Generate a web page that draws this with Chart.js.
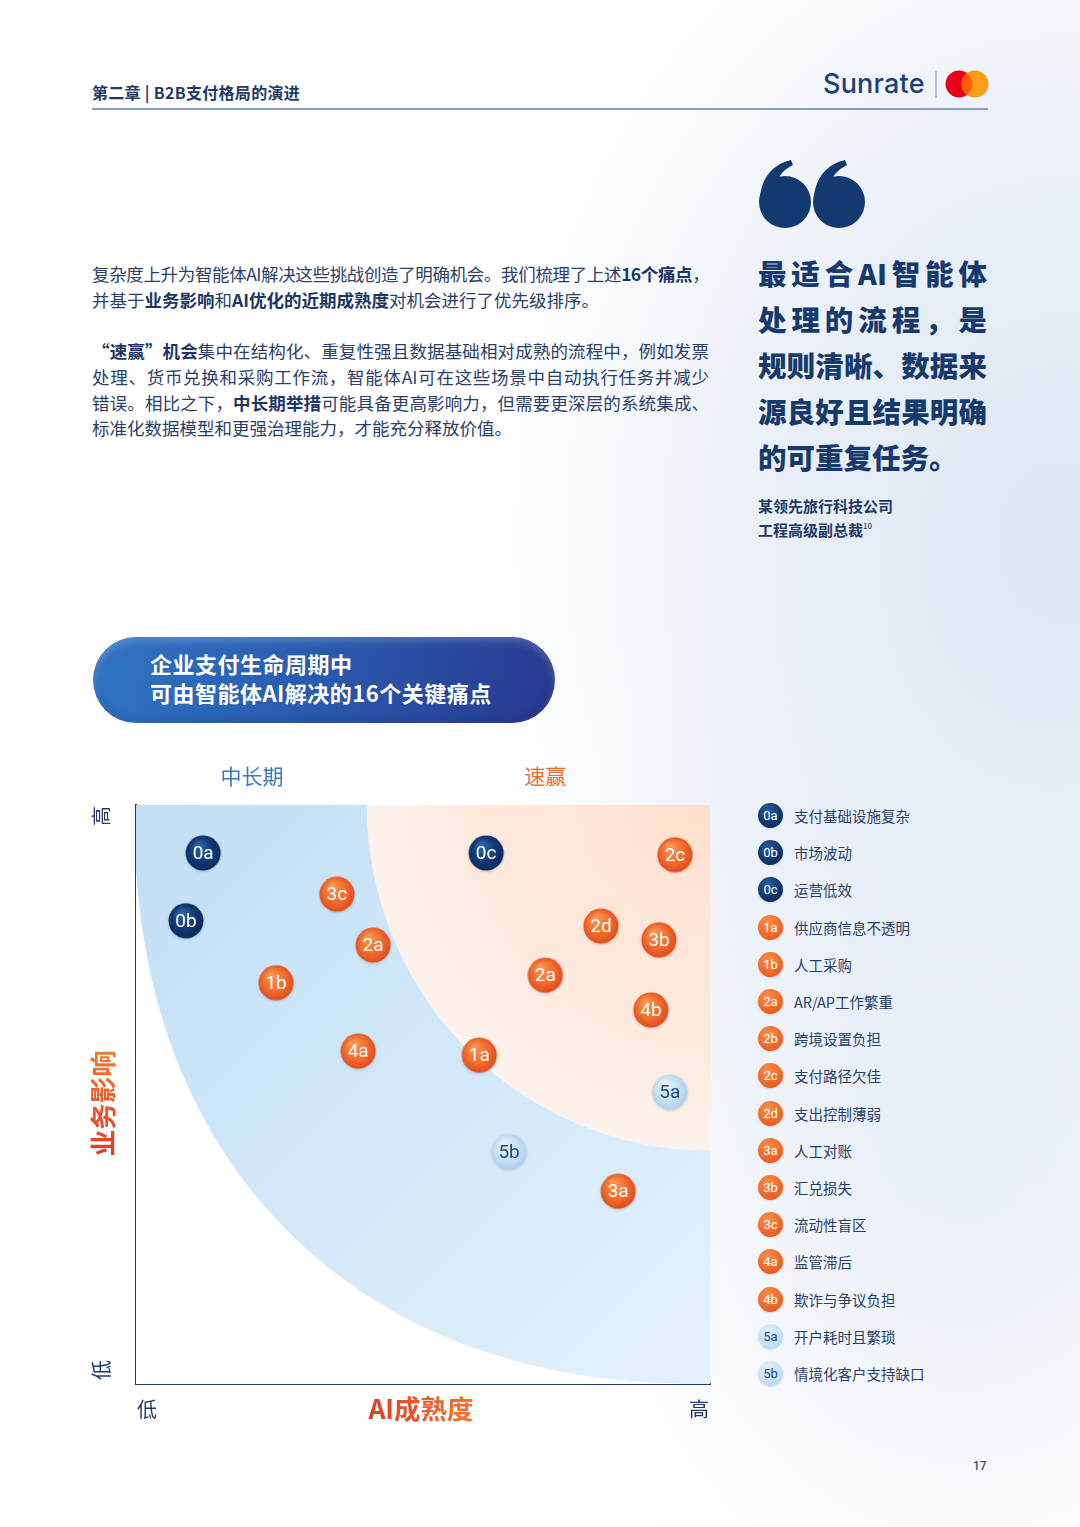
<!DOCTYPE html>
<html>
<head>
<meta charset="utf-8">
<script src="https://cdn.jsdelivr.net/npm/chart.js@4.4.1/dist/chart.umd.min.js"></script>
<style>
html, body { margin: 0; padding: 0; }
body {
  width: 1080px; height: 1527px; position: relative; overflow: hidden; background: #fff;
  font-family: "Noto Sans CJK SC", "Noto Sans", sans-serif; color: #1f3a68;
}
.wash {
  position: absolute; left: 0; top: 0; width: 1080px; height: 1527px;
  background:
    radial-gradient(ellipse 600px 760px at 1060px 540px, rgba(221,230,242,1) 0%, rgba(231,237,246,0.9) 45%, rgba(255,255,255,0) 100%),
    radial-gradient(ellipse 440px 600px at 960px 1100px, rgba(228,235,245,0.95) 0%, rgba(255,255,255,0) 100%);
}
.abs { position: absolute; }
.chapter { left: 92px; top: 80px; font-size: 16px; font-weight: 700; color: #1f3a68; white-space: nowrap; letter-spacing: 0.3px; }
.logo { left: 823px; top: 67px; font-family: "Inter", "Roboto", sans-serif; font-size: 27px; font-weight: 500; color: #1c3f7d; letter-spacing: 0.2px; }
.divider { left: 935px; top: 71px; width: 2px; height: 27px; background: #b8c2d2; }
.rule { left: 92px; top: 108px; width: 896px; height: 2px; background: #8d9db6; }
.body-text { left: 92px; top: 261px; width: 620px; font-size: 17.5px; line-height: 25.7px; color: #2b4068; }
.body-text .j { width: 617px; text-align: justify; text-align-last: justify; white-space: nowrap; }
.body-text .tight { letter-spacing: -0.7px; }
.body-text .n { white-space: nowrap; }
.body-text b { color: #1b3566; font-weight: 700; }
.quote { left: 758px; top: 250px; width: 229px; font-size: 28.5px; line-height: 46px; font-weight: 900; color: #163a6e; }
.quote .j { text-align: justify; text-align-last: justify; white-space: nowrap; }
.attr { left: 758px; top: 494px; font-size: 15px; line-height: 24px; font-weight: 700; color: #1f3a68; white-space: nowrap; }
.attr sup { font-size: 8px; font-weight: 500; vertical-align: baseline; position: relative; top: -7px; line-height: 0; }
.pill {
  left: 93px; top: 637px; width: 462px; height: 86px; border-radius: 43px;
  background: linear-gradient(100deg, #2f74c4 0%, #2a5cb0 45%, #27398f 100%);
  box-shadow: inset 0 4px 8px rgba(255,255,255,0.22), inset 0 -4px 8px rgba(0,0,40,0.15);
}
.pill div { position: absolute; left: 57px; top: 12px; font-size: 22px; letter-spacing: 0.5px; line-height: 29px; font-weight: 700; color: #fff; white-space: nowrap; }
#chartBox { left: 80px; top: 755px; width: 650px; height: 680px; }
.legend { left: 758px; top: 797px; }
.legend .item { position: relative; height: 37.2px; display: flex; align-items: center; white-space: nowrap; }
.legend .badge {
  width: 25px; height: 25px; border-radius: 50%; margin-right: 11px; display: flex; align-items: center; justify-content: center;
  font-family: "Roboto", "Noto Sans", sans-serif; font-size: 13px; color: #fff; box-shadow: 0 1px 2px rgba(0,0,0,0.12);
}
.legend .navy { background: radial-gradient(circle at 40% 30%, #275c9f 0%, #0f3670 55%, #0a2a5a 100%); }
.legend .orange { background: radial-gradient(circle at 40% 30%, #f8904a 0%, #f0682a 55%, #e44c1d 100%); }
.legend .light { background: radial-gradient(circle at 40% 30%, #e2f0fb 0%, #c3def4 60%, #a9cfee 100%); color: #1f4a7a; }
.legend .txt { font-size: 14.5px; color: #27406b; }
.pageno { left: 973px; top: 1459px; font-family: "Roboto", sans-serif; font-size: 12px; font-weight: 500; color: #3d4f70; }
</style>
</head>
<body>
<div class="wash"></div>

<div class="abs chapter">第二章 | B2B支付格局的演进</div>
<div class="abs logo">Sunrate</div>
<div class="abs divider"></div>
<svg class="abs" style="left:944px;top:69px" width="48" height="30" viewBox="0 0 48 30">
  <circle cx="15" cy="15" r="13.5" fill="#eb001b"/>
  <circle cx="31" cy="15" r="13.5" fill="#f79e1b"/>
  <path d="M23 4.1 A13.5 13.5 0 0 1 23 25.9 A13.5 13.5 0 0 1 23 4.1 Z" fill="#ff5f00"/>
</svg>
<div class="abs rule"></div>

<div class="abs body-text">
  <div class="j tight">复杂度上升为智能体AI解决这些挑战创造了明确机会。我们梳理了上述<b>16个痛点</b>，</div>
  <div class="n">并基于<b>业务影响</b>和<b>AI优化的近期成熟度</b>对机会进行了优先级排序。</div>
  <div class="n">&nbsp;</div>
  <div class="j"><b>“速赢”机会</b>集中在结构化、重复性强且数据基础相对成熟的流程中，例如发票</div>
  <div class="j">处理、货币兑换和采购工作流，智能体AI可在这些场景中自动执行任务并减少</div>
  <div class="j">错误。相比之下，<b>中长期举措</b>可能具备更高影响力，但需要更深层的系统集成、</div>
  <div class="n">标准化数据模型和更强治理能力，才能充分释放价值。</div>
</div>

<svg class="abs" style="left:758px;top:158px" width="112" height="72" viewBox="0 0 112 72">
  <g fill="#123a70">
    <circle cx="27" cy="44" r="26"/>
    <path d="M2 42 C2 22 14 6 33 2 L35 7 C25 12 20 19 21 22 Z"/>
    <circle cx="81" cy="44" r="26"/>
    <path d="M56 42 C56 22 68 6 87 2 L89 7 C79 12 74 19 75 22 Z"/>
  </g>
</svg>

<div class="abs quote">
  <div class="j">最适合AI智能体</div>
  <div class="j">处理的流程，是</div>
  <div class="j">规则清晰、数据来</div>
  <div class="j">源良好且结果明确</div>
  <div>的可重复任务。</div>
</div>
<div class="abs attr">某领先旅行科技公司<br>工程高级副总裁<sup>10</sup></div>

<div class="abs pill"><div>企业支付生命周期中<br>可由智能体AI解决的16个关键痛点</div></div>

<div class="abs" id="chartBox"><canvas id="chart"></canvas></div>

<div class="abs legend" id="legend"></div>

<div class="abs pageno">17</div>

<script>
// points on the matrix (x = AI成熟度, y = 业务影响, both 0..10)
const navyCodes = ['0a', '0b', '0c'];
const navyMaturity = [1.17, 0.87, 6.10];
const navyImpact = [9.17, 8.00, 9.17];

const orangeCodes = ['2c', '3c', '2a', '2d', '3b', '2a', '1b', '4b', '4a', '1a', '3a'];
const orangeMaturity = [9.39, 3.50, 4.13, 8.10, 9.11, 7.13, 2.44, 8.97, 3.87, 5.98, 8.40];
const orangeImpact = [9.14, 8.46, 7.58, 7.91, 7.67, 7.06, 6.93, 6.46, 5.75, 5.68, 3.33];

const lightCodes = ['5a', '5b'];
const lightMaturity = [9.30, 6.50];
const lightImpact = [5.04, 4.01];

// legend list
const legendCodes = ['0a', '0b', '0c', '1a', '1b', '2a', '2b', '2c', '2d', '3a', '3b', '3c', '4a', '4b', '5a', '5b'];
const legendNames = ['支付基础设施复杂', '市场波动', '运营低效', '供应商信息不透明', '人工采购', 'AR/AP工作繁重',
  '跨境设置负担', '支付路径欠佳', '支出控制薄弱', '人工对账', '汇兑损失', '流动性盲区', '监管滞后',
  '欺诈与争议负担', '开户耗时且繁琐', '情境化客户支持缺口'];

// axis texts
const maturityTicks = ['低', '高'];
const impactTicks = ['低', '高'];
const maturityTitle = 'AI成熟度';
const impactTitle = '业务影响';
const zoneNames = ['中长期', '速赢'];
const zoneCenters = [2.02, 7.13];

function groupOf(code) {
  if (code[0] === '0') return 'navy';
  if (code[0] === '5') return 'light';
  return 'orange';
}

// legend
const legendEl = document.getElementById('legend');
legendCodes.forEach((c, i) => {
  const item = document.createElement('div');
  item.className = 'item';
  item.innerHTML = '<div class="badge ' + groupOf(c) + '">' + c + '</div><div class="txt">' + legendNames[i] + '</div>';
  legendEl.appendChild(item);
});

// ball images used as point styles
function ball(top, mid, bottom) {
  const c = document.createElement('canvas');
  c.width = 44; c.height = 44;
  const g = c.getContext('2d');
  g.shadowColor = 'rgba(0,0,0,0.16)';
  g.shadowBlur = 3;
  g.shadowOffsetY = 1;
  const grad = g.createRadialGradient(17, 14, 2, 22, 22, 19);
  grad.addColorStop(0, top);
  grad.addColorStop(0.6, mid);
  grad.addColorStop(1, bottom);
  g.fillStyle = grad;
  g.beginPath();
  g.arc(22, 22, 17.5, 0, Math.PI * 2);
  g.fill();
  return c;
}
const navyBall = ball('#2a62a8', '#103873', '#0a285a');
const orangeBall = ball('#f99550', '#f06a2b', '#e1461b');
const lightBall = ball('#e6f2fc', '#c6e0f5', '#a8ceee');

function toPoints(xs, ys) {
  return xs.map((x, i) => ({ x: x, y: ys[i] }));
}

// rounded quarter shape around the top-right corner of the plot
function quarter(ctx, cx, cy, a, b, n) {
  ctx.beginPath();
  ctx.moveTo(cx, cy);
  for (let k = 0; k <= 90; k++) {
    const t = k / 90 * Math.PI / 2;
    const px = cx - a * Math.pow(Math.cos(t), 2 / n);
    const py = cy + b * Math.pow(Math.sin(t), 2 / n);
    ctx.lineTo(px, py);
  }
  ctx.closePath();
}

const zones = {
  id: 'zones',
  beforeDatasetsDraw(chart) {
    const { ctx, chartArea: a } = chart;
    const w = a.right - a.left;
    const h = a.bottom - a.top;
    const cx = a.right, cy = a.top;
    ctx.save();
    ctx.beginPath();
    ctx.rect(a.left, a.top, w, h);
    ctx.clip();
    ctx.fillStyle = '#ffffff';
    ctx.fillRect(a.left, a.top, w, h);

    const blue = ctx.createLinearGradient(a.left, a.top, a.right, a.bottom);
    blue.addColorStop(0, '#c2dff5');
    blue.addColorStop(0.55, '#d3e9f9');
    blue.addColorStop(1, '#e3f1fc');
    ctx.fillStyle = blue;
    quarter(ctx, cx, cy, w * 1.003, h * 1.0, 2.25);
    ctx.fill();

    const peach = ctx.createRadialGradient(cx, cy, 0, cx, cy, w * 0.6);
    peach.addColorStop(0, '#fde0cd');
    peach.addColorStop(0.7, '#fdeadf');
    peach.addColorStop(1, '#fdf3ec');
    ctx.fillStyle = peach;
    quarter(ctx, cx, cy, w * 0.598, h * 0.597, 2);
    ctx.fill();
    ctx.restore();
  }
};

const texts = {
  id: 'texts',
  afterDatasetsDraw(chart) {
    const { ctx } = chart;
    ctx.save();
    ctx.textAlign = 'center';
    ctx.textBaseline = 'middle';
    chart.data.datasets.forEach((ds, di) => {
      const meta = chart.getDatasetMeta(di);
      ctx.fillStyle = ds.textColor;
      ctx.font = '19px Roboto, "Noto Sans", sans-serif';
      meta.data.forEach((el, i) => {
        ctx.fillText(ds.codes[i], el.x, el.y + 1);
      });
    });
    ctx.restore();
  },
  afterDraw(chart) {
    const { ctx, chartArea: a, scales } = chart;
    ctx.save();
    ctx.textBaseline = 'middle';
    // zone titles
    ctx.font = '21px "Noto Sans CJK SC", sans-serif';
    ctx.textAlign = 'center';
    ctx.fillStyle = '#3e79bd';
    ctx.fillText(zoneNames[0], scales.x.getPixelForValue(zoneCenters[0]), a.top - 29);
    ctx.fillStyle = '#f06a2c';
    ctx.fillText(zoneNames[1], scales.x.getPixelForValue(zoneCenters[1]), a.top - 29);

    // x ticks + title
    ctx.fillStyle = '#1f3a68';
    ctx.font = '20px "Noto Sans CJK SC", sans-serif';
    ctx.textAlign = 'left';
    ctx.fillText(maturityTicks[0], scales.x.getPixelForValue(0) + 1, a.bottom + 25);
    ctx.textAlign = 'right';
    ctx.fillText(maturityTicks[1], scales.x.getPixelForValue(10) - 1, a.bottom + 25);
    const tg = ctx.createLinearGradient(a.left + 230, 0, a.left + 340, 0);
    tg.addColorStop(0, '#e23c26');
    tg.addColorStop(1, '#f4782f');
    ctx.fillStyle = tg;
    ctx.font = 'bold 26.5px "Noto Sans CJK SC", sans-serif';
    ctx.textAlign = 'center';
    ctx.fillText(maturityTitle, (a.left + a.right) / 2 - 2, a.bottom + 25);

    // y ticks + title, rotated
    ctx.translate(a.left - 35, 0);
    ctx.rotate(-Math.PI / 2);
    ctx.fillStyle = '#1f3a68';
    ctx.font = '20px "Noto Sans CJK SC", sans-serif';
    ctx.textAlign = 'right';
    ctx.fillText(impactTicks[1], -scales.y.getPixelForValue(10) - 1, 0);
    ctx.textAlign = 'left';
    ctx.fillText(impactTicks[0], -scales.y.getPixelForValue(0) + 4, 0);
    const mid = -scales.y.getPixelForValue(4.85);
    const yg = ctx.createLinearGradient(mid - 52, 0, mid + 52, 0);
    yg.addColorStop(0, '#e23c26');
    yg.addColorStop(1, '#f4782f');
    ctx.fillStyle = yg;
    ctx.font = 'bold 26.5px "Noto Sans CJK SC", sans-serif';
    ctx.textAlign = 'center';
    ctx.fillText(impactTitle, mid, 2);
    ctx.restore();
  }
};

new Chart(document.getElementById('chart'), {
  type: 'scatter',
  data: {
    datasets: [
      { data: toPoints(navyMaturity, navyImpact), codes: navyCodes, pointStyle: navyBall, textColor: '#ffffff' },
      { data: toPoints(orangeMaturity, orangeImpact), codes: orangeCodes, pointStyle: orangeBall, textColor: '#ffffff' },
      { data: toPoints(lightMaturity, lightImpact), codes: lightCodes, pointStyle: lightBall, textColor: '#1f4a7a' }
    ]
  },
  options: {
    responsive: true,
    maintainAspectRatio: false,
    animation: false,
    layout: { padding: { left: 56, top: 50, right: 20, bottom: 51 } },
    datasets: { scatter: { clip: false } },
    plugins: { legend: { display: false }, tooltip: { enabled: false } },
    scales: {
      x: {
        min: 0, max: 10,
        grid: { display: false, drawTicks: false },
        ticks: { display: false },
        border: { display: true, color: '#1f3a68', width: 2 }
      },
      y: {
        min: 0, max: 10,
        grid: { display: false, drawTicks: false },
        ticks: { display: false },
        border: { display: true, color: '#1f3a68', width: 2 }
      }
    }
  },
  plugins: [zones, texts]
});
</script>
</body>
</html>
